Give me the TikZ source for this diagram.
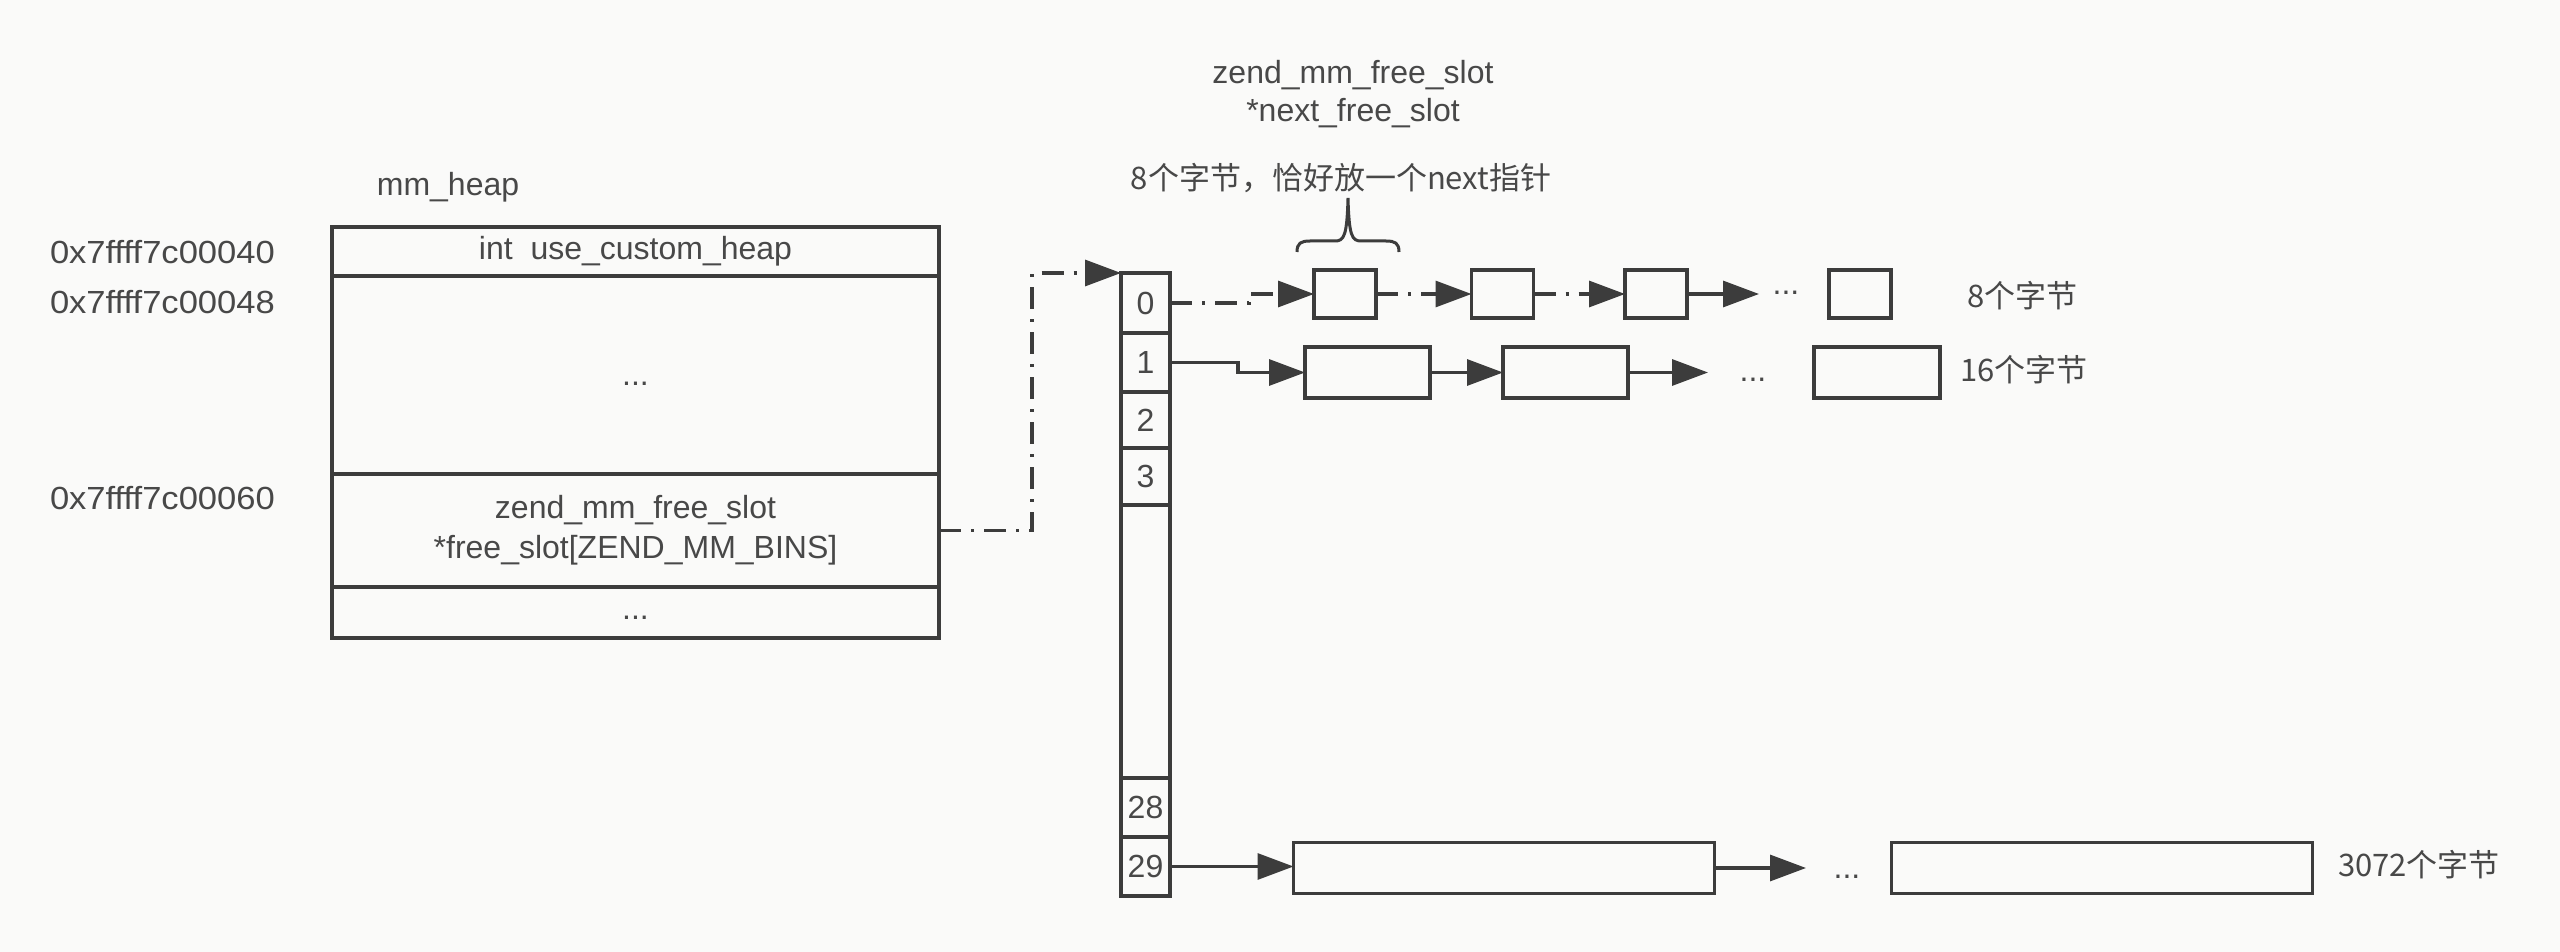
\documentclass[tikz,border=0pt]{standalone}
\usepackage{fontspec}
\setmainfont{Liberation Sans}
\newfontfamily\addrfont{Liberation Sans}[FakeStretch=1.08]
\newfontfamily\cjk{Noto Sans CJK SC}
\usetikzlibrary{arrows.meta}
\definecolor{ink}{RGB}{60,60,60}
\definecolor{txt}{RGB}{72,72,72}
\definecolor{bg}{RGB}{250,250,249}
\begin{document}
\begin{tikzpicture}[x=1pt,y=-1pt,
  every node/.style={text=txt, inner sep=0pt, outer sep=0pt, font=\fontsize{32}{40}\selectfont},
  box/.style={draw=ink, line width=3.2pt},
  cjktext/.style={font=\cjk\fontsize{31}{38}\selectfont},
  addr/.style={anchor=west, font=\addrfont\fontsize{32}{40}\selectfont},
  lnk/.style={draw=ink, line width=3.2pt, -{Triangle[length=36pt,width=26pt]}},
  dd/.style={lnk, dash pattern=on 22pt off 10pt on 3pt off 10pt}
]
\fill[bg] (0,0) rectangle (2560,952);
\useasboundingbox (0,0) rectangle (2560,952);

% mm_heap structure
\node[anchor=base] (title) at (448,196) {mm\_heap};
\node[box, minimum width=607pt, minimum height=49pt] (h0) at (635.5,251.5) {int\ \ use\_custom\_heap};
\node[box, minimum width=607pt, minimum height=198pt] (h1) at (635.5,375) {\raisebox{-10pt}[0pt][0pt]{...}};
\node[box, minimum width=607pt, minimum height=113pt, align=center] (h2) at (635.5,530.5) {zend\_mm\_free\_slot\\*free\_slot[ZEND\_MM\_BINS]};
\node[box, minimum width=607pt, minimum height=51pt] (h3) at (635.5,612.5) {\raisebox{-7pt}[0pt][0pt]{...}};

% addresses
\node[addr] (a0) at (50,252) {0x7ffff7c00040};
\node[addr] (a1) at (50,302) {0x7ffff7c00048};
\node[addr] (a2) at (50,498) {0x7ffff7c00060};

% free_slot array
\node[box, minimum width=49pt, minimum height=60pt] (c0) at (1145.5,303) {0};
\node[box, minimum width=49pt, minimum height=59pt] (c1) at (1145.5,362.5) {1};
\node[box, minimum width=49pt, minimum height=56pt] (c2) at (1145.5,420) {2};
\node[box, minimum width=49pt, minimum height=57pt] (c3) at (1145.5,476.5) {3};
\node[box, minimum width=49pt, minimum height=273pt] (cg) at (1145.5,641.5) {};
\node[box, minimum width=49pt, minimum height=59pt] (c28) at (1145.5,807.5) {28};
\node[box, minimum width=49pt, minimum height=59pt] (c29) at (1145.5,866.5) {29};

% labels above
\node[anchor=base] (t1) at (1353,84) {zend\_mm\_free\_slot};
\node[anchor=base] (t2) at (1353,122) {*next\_free\_slot};
\node[cjktext, anchor=base] (t3) at (1341,190) {8个字节，恰好放一个next指针};

% brace
\draw[ink, line width=3pt] (1297,252) .. controls (1297,243) and (1301,241) .. (1310,241) -- (1335,241)
  .. controls (1344,241) and (1347,236) .. (1348,198)
  .. controls (1349,236) and (1352,241) .. (1361,241) -- (1386,241)
  .. controls (1395,241) and (1399,243) .. (1399,252);

% row 0 (8 bytes)
\node[box, minimum width=62pt, minimum height=48pt] (b01) at (1345,294) {};
\node[box, minimum width=62pt, minimum height=48pt] (b02) at (1502.5,294) {};
\node[box, minimum width=62pt, minimum height=48pt] (b03) at (1656,294) {};
\node[box, minimum width=62pt, minimum height=48pt] (b04) at (1860,294) {};
\node (d0) at (1786,293) {...};
\node[cjktext, anchor=west] (l0) at (1967,296) {8个字节};

% row 1 (16 bytes)
\node[box, minimum width=125pt, minimum height=51pt] (b11) at (1367.5,372.5) {};
\node[box, minimum width=125pt, minimum height=51pt] (b12) at (1565.5,372.5) {};
\node[box, minimum width=126pt, minimum height=51pt] (b13) at (1877,372.5) {};
\node (d1) at (1753,380) {...};
\node[cjktext, anchor=west] (l1) at (1960,370) {16个字节};

% row 29 (3072 bytes)
\node[box, minimum width=421pt, minimum height=51pt] (b291) at (1504,868) {};
\node[box, minimum width=421pt, minimum height=51pt] (b292) at (2102,868) {};
\node (d29) at (1847,877) {...};
\node[cjktext, anchor=west] (l29) at (2338,865) {3072个字节};

% coordinates for bends / free ends
\coordinate (j0) at (1032,0);
\coordinate (k0) at (1249,0);
\coordinate (k1) at (1238,0);
\coordinate (e0) at (1759,294);
\coordinate (e1) at (1708,372.5);
\coordinate (e29) at (1806,868);

% connectors
\draw[dd] (h2.east) -- (h2.east -| j0) |- (c0.north west);
\draw[dd] (c0.east) -- (c0.east -| k0) |- (b01.west);
\draw[dd] (b01.east) -- (b02.west);
\draw[dd] (b02.east) -- (b03.west);
\draw[lnk] (b03.east) -- (e0);

\draw[lnk] (c1.east) -- (c1.east -| k1) |- (b11.west);
\draw[lnk] (b11.east) -- (b12.west);
\draw[lnk] (b12.east) -- (e1);

\draw[lnk] (c29.east) -- (c29.east -| b291.west);
\draw[lnk] (b291.east) -- (e29);
\end{tikzpicture}
\end{document}
